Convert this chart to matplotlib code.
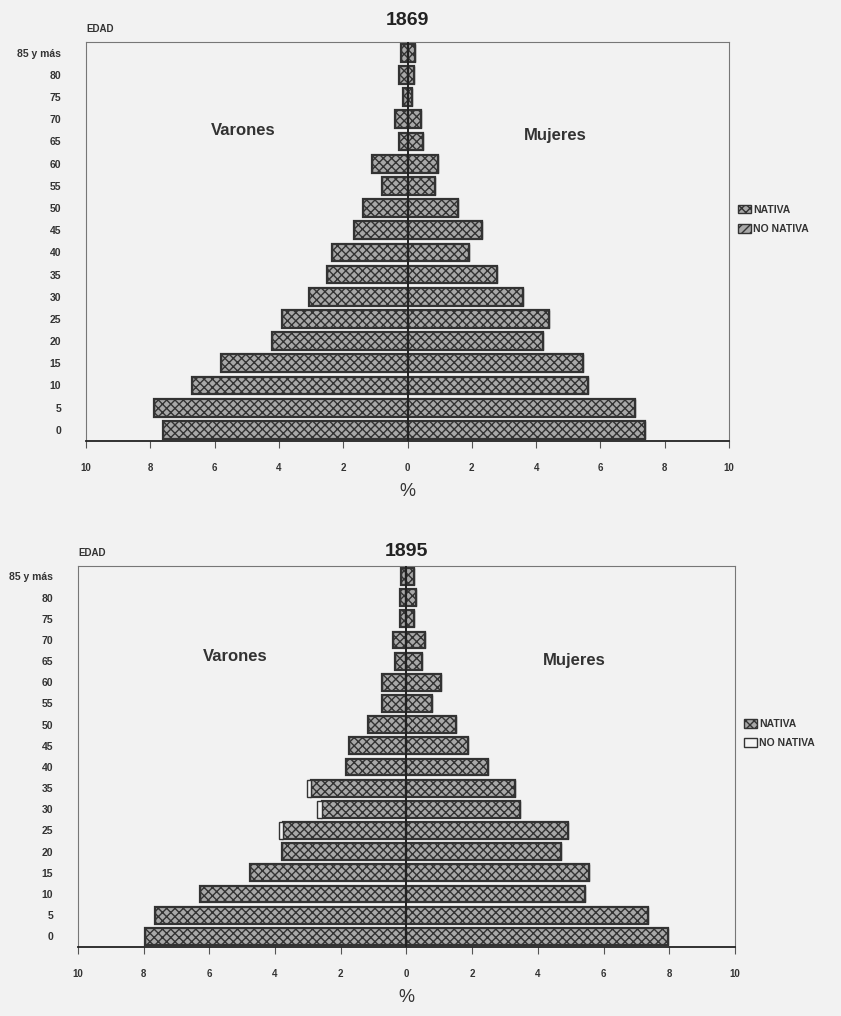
import matplotlib
matplotlib.use("Agg")
import matplotlib.pyplot as plt
from matplotlib.patches import Patch
import numpy as np

plt.rcParams['font.family'] = ['Liberation Sans', 'DejaVu Sans']

age_labels = ["0", "5", "10", "15", "20", "25", "30", "35", "40", "45",
              "50", "55", "60", "65", "70", "75", "80", "85 y más"]

# 1869 (% of total population)
men_1869 = [7.62, 7.90, 6.69, 5.79, 4.23, 3.89, 3.05, 2.49, 2.36, 1.68,
            1.38, 0.78, 1.12, 0.26, 0.39, 0.15, 0.26, 0.20]
women_1869 = [7.37, 7.06, 5.60, 5.47, 4.20, 4.39, 3.58, 2.77, 1.90, 2.33,
              1.58, 0.85, 0.96, 0.49, 0.43, 0.15, 0.20, 0.23]
men_nonnat_1869 = [0.0] * 18
women_nonnat_1869 = [0.0] * 18

# 1895
men_1895 = [7.95, 7.64, 6.29, 4.77, 3.80, 3.75, 2.58, 2.90, 1.84, 1.74,
            1.17, 0.76, 0.76, 0.35, 0.40, 0.19, 0.19, 0.17]
men_nonnat_1895 = [0.0, 0.0, 0.0, 0.0, 0.0, 0.12, 0.15, 0.12, 0.0, 0.0,
                   0.0, 0.0, 0.0, 0.0, 0.0, 0.0, 0.0, 0.0]
women_1895 = [7.95, 7.35, 5.42, 5.55, 4.70, 4.93, 3.46, 3.31, 2.47, 1.86,
              1.50, 0.79, 1.06, 0.46, 0.57, 0.23, 0.28, 0.23]
women_nonnat_1895 = [0.0] * 18

xticks = [-10, -8, -6, -4, -2, 0, 2, 4, 6, 8, 10]
xticklabels = ["10", "8", "6", "4", "2", "0", "2", "4", "6", "8", "10"]

BG = '#f2f2f2'
DARK = '#333333'
NAT_FACE = '#a8a8a8'
NON_FACE = '#f4f4f4'

fig = plt.figure(figsize=(8.41, 10.16), dpi=100, facecolor=BG)


def pyramid(ax, year, men, men_non, women, women_non, legend_second_hatch, leg_y, tpad):
    y = np.arange(len(age_labels))
    men = np.array(men); women = np.array(women)
    men_non = np.array(men_non); women_non = np.array(women_non)
    h = 0.8
    ax.barh(y, -men, height=h, color=NAT_FACE, edgecolor=DARK, hatch='xxxx',
            linewidth=1.6, zorder=2)
    ax.barh(y, women, height=h, color=NAT_FACE, edgecolor=DARK, hatch='xxxx',
            linewidth=1.6, zorder=2)
    ax.barh(y, -men_non, left=-men, height=h, color=NON_FACE, edgecolor=DARK,
            linewidth=1.0, zorder=2)
    ax.barh(y, women_non, left=women, height=h, color=NON_FACE, edgecolor=DARK,
            linewidth=1.0, zorder=2)
    ax.axvline(0, color='#222222', lw=1.4, zorder=3)
    ax.set_xlim(-10, 10)
    ax.set_ylim(-0.5, 17.5)
    ax.set_facecolor(BG)
    ax.set_xticks(xticks)
    ax.set_xticklabels(xticklabels, fontsize=7, fontweight='bold', color=DARK)
    ax.set_yticks(y)
    ax.set_yticklabels(age_labels, fontsize=7.5, fontweight='bold', color=DARK)
    ax.tick_params(axis='y', length=0, pad=18)
    ax.tick_params(axis='x', length=5, direction='out', color='#555555', pad=11)
    for s in ['top', 'left', 'right']:
        ax.spines[s].set_color('#777777')
        ax.spines[s].set_linewidth(0.8)
    ax.spines['bottom'].set_color('#222222')
    ax.spines['bottom'].set_linewidth(1.3)
    ax.set_xlabel('%', fontsize=13, color=DARK, labelpad=7)
    ax.text(0.0, 1.02, 'EDAD', transform=ax.transAxes, fontsize=7,
            fontweight='bold', color=DARK, ha='left', va='bottom')
    ax.set_title(year, fontsize=14, fontweight='bold', color='#222222', pad=tpad)
    handles = [Patch(facecolor=NAT_FACE, edgecolor=DARK, hatch='xxxx', label='NATIVA'),
               Patch(facecolor=NON_FACE if not legend_second_hatch else NAT_FACE,
                     edgecolor=DARK, hatch=legend_second_hatch, label='NO NATIVA')]
    leg = ax.legend(handles=handles, loc='center left', bbox_to_anchor=(1.0, leg_y),
                    frameon=False, handlelength=1.2, handleheight=0.9,
                    handletextpad=0.2, labelspacing=0.9,
                    prop={'size': 7.5, 'weight': 'bold'})
    for t in leg.get_texts():
        t.set_color(DARK)


ax1 = fig.add_axes([0.1023, 0.566, 0.7646, 0.393])
pyramid(ax1, '1869', men_1869, men_nonnat_1869, women_1869, women_nonnat_1869, '////', 0.555, 12)
ax1.text(-5.1, 13.5, 'Varones', fontsize=12, fontweight='bold', color=DARK, ha='center', va='center')
ax1.text(4.6, 13.25, 'Mujeres', fontsize=12, fontweight='bold', color=DARK, ha='center', va='center')

ax2 = fig.add_axes([0.0927, 0.068, 0.7813, 0.375])
pyramid(ax2, '1895', men_1895, men_nonnat_1895, women_1895, women_nonnat_1895, '', 0.56, 7)
ax2.text(-5.2, 13.2, 'Varones', fontsize=12, fontweight='bold', color=DARK, ha='center', va='center')
ax2.text(5.1, 13.05, 'Mujeres', fontsize=12, fontweight='bold', color=DARK, ha='center', va='center')

fig.savefig('out.png', dpi=100, facecolor=BG)
